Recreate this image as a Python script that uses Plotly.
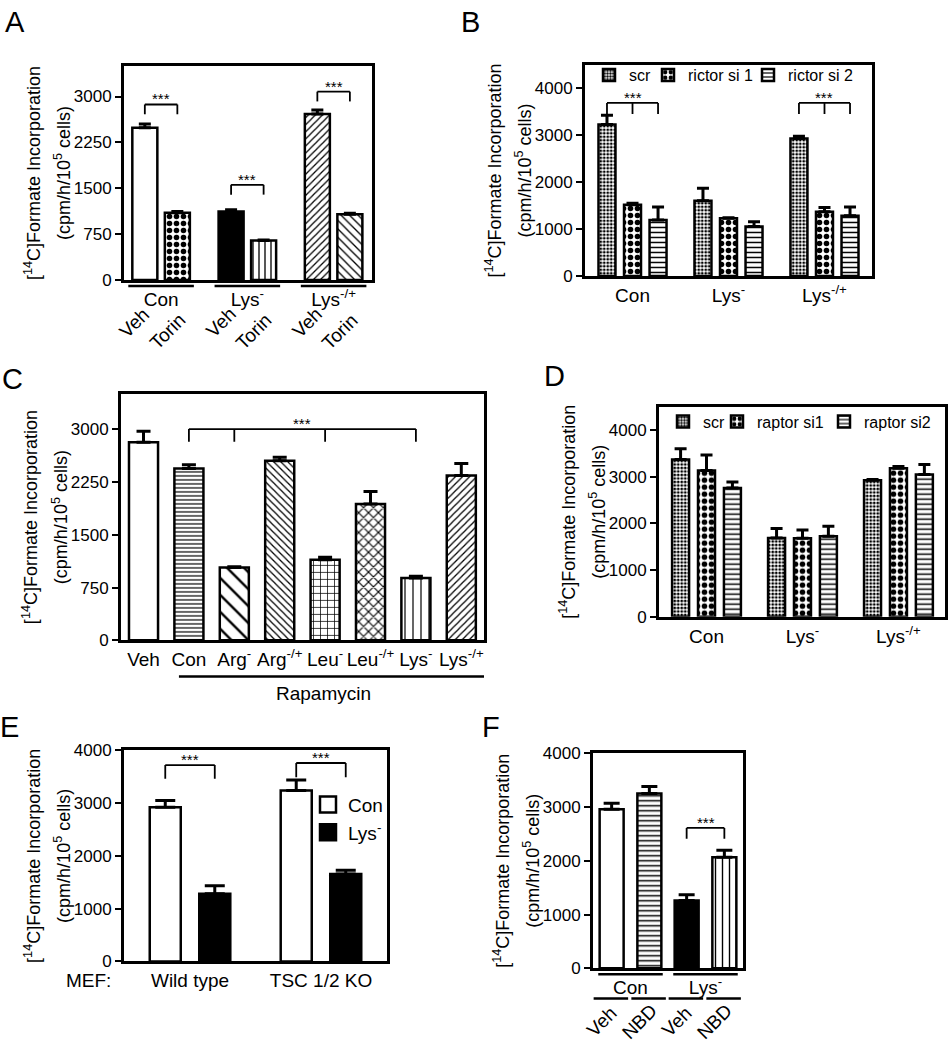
import plotly.graph_objects as go

W, H = 948, 1050
FONT = "Liberation Sans, Arial, sans-serif"

# ---------------- data ----------------
a_groups = ["Con", "Lys<sup>-</sup>", "Lys<sup>-/+</sup>"]
a_veh = [2490, 1120, 2715]
a_veh_err = [60, 30, 65]
a_torin = [1100, 645, 1075]
a_torin_err = [20, 10, 15]

b_groups = ["Con", "Lys<sup>-</sup>", "Lys<sup>-/+</sup>"]
b_scr = [3230, 1605, 2935]
b_scr_err = [200, 265, 45]
b_ric1 = [1520, 1235, 1370]
b_ric1_err = [35, 10, 90]
b_ric2 = [1195, 1055, 1285]
b_ric2_err = [280, 105, 190]

c_labels = ["Veh", "Con", "Arg<sup>-</sup>", "Arg<sup>-/+</sup>", "Leu<sup>-</sup>",
            "Leu<sup>-/+</sup>", "Lys<sup>-</sup>", "Lys<sup>-/+</sup>"]
c_values = [2815, 2440, 1035, 2550, 1145, 1935, 885, 2340]
c_err = [155, 55, 10, 50, 35, 180, 25, 170]

d_groups = ["Con", "Lys<sup>-</sup>", "Lys<sup>-/+</sup>"]
d_scr = [3370, 1685, 2925]
d_scr_err = [230, 205, 15]
d_rap1 = [3135, 1680, 3180]
d_rap1_err = [330, 180, 40]
d_rap2 = [2760, 1725, 3050]
d_rap2_err = [125, 215, 210]

e_groups = ["Wild type", "TSC 1/2 KO"]
e_con = [2920, 3240]
e_con_err = [130, 200]
e_lys = [1285, 1655]
e_lys_err = [150, 75]

f_groups = ["Con", "Lys<sup>-</sup>"]
f_veh = [2960, 1260]
f_veh_err = [110, 110]
f_nbd = [3250, 2065]
f_nbd_err = [130, 130]

ticks_750 = [0, 750, 1500, 2250, 3000]
ticks_1000 = [0, 1000, 2000, 3000, 4000]

# ---------------- layout helpers ----------------
fig = go.Figure()
layout = dict(width=W, height=H, margin=dict(l=0, r=0, t=0, b=0, pad=0), autosize=False,
              paper_bgcolor="white", plot_bgcolor="white", barmode="overlay",
              font=dict(family=FONT, color="black"), showlegend=True)
annotations = []
shapes = []
CAT = 19


def sfx(i):
    return "" if i == 1 else str(i)


def add_axes(i, box, xr, yr, yticks, xlabels):
    l, t, r, b = box
    s = sfx(i)
    layout["xaxis" + s] = dict(domain=[l / W, r / W], range=list(xr), anchor="y" + s,
                               showline=True, mirror=True, linewidth=3, linecolor="black",
                               showgrid=False, zeroline=False, ticks="",
                               tickvals=list(range(len(xlabels))), ticktext=xlabels,
                               tickfont=dict(size=CAT, family=FONT), ticklabelstandoff=0,
                               fixedrange=True)
    layout["yaxis" + s] = dict(domain=[1 - b / H, 1 - t / H], range=list(yr), anchor="x" + s,
                               showline=True, mirror=True, linewidth=3, linecolor="black",
                               showgrid=False, zeroline=False, ticks="outside", ticklen=6,
                               tickwidth=2, tickcolor="black", tickvals=yticks,
                               tickfont=dict(size=17, family=FONT), fixedrange=True)
    for txt, shift in [("[<sup>14</sup>C]Formate Incorporation", -91),
                       ("(cpm/h/10<sup>5</sup> cells)", -61)]:
        annotations.append(dict(text=txt, xref="x" + s + " domain", yref="y" + s + " domain",
                                x=0, y=0.5, xshift=shift, xanchor="center", yanchor="middle",
                                textangle=-90, showarrow=False, font=dict(size=18, family=FONT)))


def centers(n, step):
    return [(k - (n - 1) / 2) * step for k in range(n)]


def add_bars(i, ys, errs, center, width, color, shape_, size, solid, cap,
             name=None, legend=None):
    s = sfx(i)
    fig.add_trace(go.Bar(
        x=list(range(len(ys))), y=ys, offset=center - width / 2, width=width,
        xaxis="x" + s, yaxis="y" + s, name=name or "",
        showlegend=legend is not None, legend=legend or "legend",
        marker=dict(color=color, line=dict(color="black", width=2.5),
                    pattern=dict(shape=shape_, size=size, solidity=solid,
                                 fgcolor="black", bgcolor="white", fillmode="replace")),
        error_y=dict(type="data", array=errs, arrayminus=[0] * len(errs), symmetric=False,
                     color="black", thickness=3, width=cap, visible=True),
        hoverinfo="skip"))


def bracket(i, xs, ytop, ybot, lw=1.8):
    s = sfx(i)
    shapes.append(dict(type="line", xref="x" + s, yref="y" + s, x0=min(xs), x1=max(xs),
                       y0=ytop, y1=ytop, line=dict(color="black", width=lw)))
    for xv in xs:
        shapes.append(dict(type="line", xref="x" + s, yref="y" + s, x0=xv, x1=xv,
                           y0=ytop, y1=ybot, line=dict(color="black", width=lw)))
    annotations.append(dict(text="***", xref="x" + s, yref="y" + s,
                            x=(min(xs) + max(xs)) / 2, y=ytop, yanchor="bottom",
                            xanchor="center", yshift=-5, showarrow=False,
                            font=dict(size=15, family=FONT)))


def letter(txt, x, y):
    annotations.append(dict(text=txt, xref="paper", yref="paper", x=x / W, y=1 - y / H,
                            xanchor="left", yanchor="top", showarrow=False,
                            font=dict(size=29, family=FONT)))


def legend_box(key, x, y, size=16):
    layout[key] = dict(bgcolor="rgba(0,0,0,0)", xanchor="left", yanchor="top",
                       orientation="v", x=x / W, y=1 - y / H, itemwidth=30,
                       font=dict(size=size, family=FONT), itemclick=False,
                       itemdoubleclick=False, tracegroupgap=0, itemsizing="trace")


def rotated(axis_s, xv, ydom, text, xshift):
    annotations.append(dict(text=text, xref="x" + axis_s, yref="y" + axis_s + " domain",
                            x=xv, y=ydom, xshift=xshift, xanchor="center", yanchor="middle",
                            textangle=-45, showarrow=False, font=dict(size=CAT, family=FONT)))


# ---------------- Panel A ----------------
add_axes(1, (124, 58, 372, 276), (-0.43, 2.445), (0, 3500), ticks_750, a_groups)
ca = centers(2, 0.377)
add_bars(1, a_veh, a_veh_err, ca[0], 0.29, "white",
         ["", ".", "/"], [6, 4, 5], [0.2, 1.0, 0.25], 6)
add_bars(1, a_torin, a_torin_err, ca[1], 0.29, "white",
         [".", "|", "\\"], [7, 6, 6], [0.5, 0.22, 0.22], 6)
bracket(1, [0 + ca[0], 0 + ca[1]], 2870, 2710)
bracket(1, [1 + ca[0], 1 + ca[1]], 1556, 1396)
bracket(1, [2 + ca[0], 2 + ca[1]], 3080, 2920)
for g in range(3):
    shapes.append(dict(type="line", xref="x", yref="y domain", x0=g - 0.38, x1=g + 0.38,
                       y0=-0.028, y1=-0.028, line=dict(color="black", width=2.5)))
    rotated("", g + ca[0], -0.20, "Veh", -10)
    rotated("", g + ca[1], -0.24, "Torin", -10)

# ---------------- Panel B ----------------
add_axes(2, (585, 57, 872, 272), (-0.495, 2.495), (0, 4500), ticks_1000, b_groups)
cb = centers(3, 0.266)
add_bars(2, b_scr, b_scr_err, cb[0], 0.177, "white", ".", 3.5, 0.5, 6, "scr", "legend")
add_bars(2, b_ric1, b_ric1_err, cb[1], 0.177, "white", ".", 7, 0.5, 6, "rictor si 1", "legend2")
add_bars(2, b_ric2, b_ric2_err, cb[2], 0.177, "white", "-", 5, 0.3, 6, "rictor si 2", "legend3")
bracket(2, [0 + c for c in cb], 3690, 3455)
bracket(2, [2 + c for c in cb], 3690, 3455)
legend_box("legend", 589, 50)
legend_box("legend2", 648, 50)
legend_box("legend3", 748, 50)

# ---------------- Panel C ----------------
add_axes(3, (121, 392, 484, 643), (-0.496, 7.5), (0, 3500), ticks_750, c_labels)
fig.add_trace(go.Bar(
    x=list(range(len(c_values))), y=c_values, offset=-0.32, width=0.64,
    xaxis="x3", yaxis="y3", showlegend=False, hoverinfo="skip",
    marker=dict(color="white", line=dict(color="black", width=2.5),
                pattern=dict(shape=["", "-", "\\", "\\", "+", "x", "|", "/"],
                             size=[6, 4, 12, 5, 7, 7, 8, 5],
                             solidity=[0.2, 0.3, 0.2, 0.25, 0.2, 0.3, 0.15, 0.25],
                             fgcolor="black", bgcolor="white", fillmode="replace")),
    error_y=dict(type="data", array=c_err, arrayminus=[0] * len(c_err), symmetric=False,
                 color="black", thickness=3, width=7, visible=True)))
bracket(3, [1, 2, 4, 6], 3000, 2820)
shapes.append(dict(type="line", xref="x3", yref="y3 domain", x0=0.78, x1=7.5,
                   y0=-0.147, y1=-0.147, line=dict(color="black", width=2.5)))
annotations.append(dict(text="Rapamycin", xref="paper", yref="paper", x=323 / W,
                        y=1 - 697 / H, xanchor="center", yanchor="middle", showarrow=False,
                        font=dict(size=CAT, family=FONT)))

# ---------------- Panel D ----------------
add_axes(4, (659, 405, 945, 619), (-0.495, 2.485), (0, 4500), ticks_1000, d_groups)
cd = centers(3, 0.27)
add_bars(4, d_scr, d_scr_err, cd[0], 0.177, "white", ".", 3.5, 0.5, 6, "scr", "legend4")
add_bars(4, d_rap1, d_rap1_err, cd[1], 0.177, "white", ".", 7, 0.5, 6, "raptor si1", "legend5")
add_bars(4, d_rap2, d_rap2_err, cd[2], 0.177, "white", "-", 5, 0.3, 6, "raptor si2", "legend6")
legend_box("legend4", 663, 403)
legend_box("legend5", 717, 403)
legend_box("legend6", 824, 403)

# ---------------- Panel E ----------------
add_axes(5, (124, 755, 387, 970), (-0.504, 1.504), (0, 4000), ticks_1000, e_groups)
ce = centers(2, 0.378)
add_bars(5, e_con, e_con_err, ce[0], 0.237, "white", "", 6, 0.2, 10)
add_bars(5, e_lys, e_lys_err, ce[1], 0.237, "black", "", 6, 0.2, 10)
for nm, col in [("Con", "white"), ("Lys<sup>-</sup>", "black")]:
    fig.add_trace(go.Scatter(x=[None], y=[None], mode="markers", name=nm, legend="legend7",
                             xaxis="x5", yaxis="y5", hoverinfo="skip",
                             marker=dict(symbol="square", size=16, color=col,
                                         line=dict(color="black", width=2.5))))
bracket(5, [0 + ce[0], 0 + ce[1]], 3720, 3460)
bracket(5, [1 + ce[0], 1 + ce[1]], 3760, 3490)
legend_box("legend7", 308, 791, size=19)
annotations.append(dict(text="MEF:", xref="paper", yref="paper", x=88 / W, y=1 - 989 / H,
                        xanchor="center", yanchor="middle", showarrow=False,
                        font=dict(size=CAT, family=FONT)))

# ---------------- Panel F ----------------
add_axes(6, (593, 758, 743, 977), (-0.5, 1.5), (0, 4000), ticks_1000, f_groups)
cf = centers(2, 0.503)
add_bars(6, f_veh, f_veh_err, cf[0], 0.32, ["white", "black"], "", 6, 0.2, 8)
add_bars(6, f_nbd, f_nbd_err, cf[1], 0.32, "white", ["-", "|"], [5, 7], [0.3, 0.2], 8)
bracket(6, [1 + cf[0], 1 + cf[1]], 2612, 2410)
for g in range(2):
    shapes.append(dict(type="line", xref="x6", yref="y6 domain", x0=g - 0.43, x1=g + 0.43,
                       y0=-0.027, y1=-0.027, line=dict(color="black", width=2.5)))
    for k, lab in enumerate(["Veh", "NBD"]):
        shapes.append(dict(type="line", xref="x6", yref="y6 domain",
                           x0=g + cf[k] - 0.24, x1=g + cf[k] + 0.22,
                           y0=-0.14, y1=-0.14, line=dict(color="black", width=2.5)))
        rotated("6", g + cf[k], -0.245, lab, -10)

# panel letters
letter("A", 3, -5)
letter("B", 459, -5)
letter("C", 0, 358)
letter("D", 542, 355)
letter("E", -2, 713)
letter("F", 480, 713)

layout["annotations"] = annotations
layout["shapes"] = shapes
fig.update_layout(**layout)
fig.write_html("out.html", config={"displayModeBar": False},
               post_script="document.body.style.margin='0';document.body.style.overflow='hidden';")
